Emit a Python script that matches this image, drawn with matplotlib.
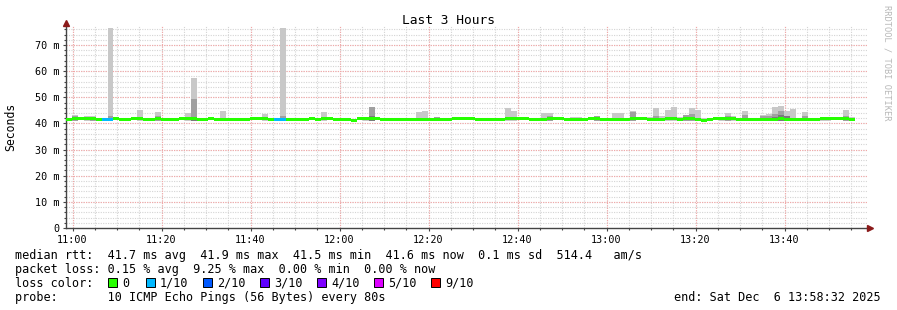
import numpy as np
import matplotlib
matplotlib.use("Agg")
import matplotlib.pyplot as plt
from matplotlib.patches import Rectangle

# --- data -------------------------------------------------------------
step = 80                      # seconds per bar
span = 3 * 3600                # graph covers 10:58:32 .. 13:58:32
first_tick = 88                # 11:00:00 is 88 s after the start

median = [
    41.5, 41.8, 41.8, 41.7, 41.7, 41.6, 41.5, 41.5, 41.8, 41.4,
    41.5, 41.7, 41.7, 41.6, 41.4, 41.7, 41.5, 41.4, 41.6, 41.7,
    41.7, 41.8, 41.4, 41.6, 41.7, 41.5, 41.6, 41.6, 41.6, 41.6,
    41.6, 41.7, 41.7, 41.7, 41.6, 41.5, 41.5, 41.6, 41.6, 41.6,
    41.6, 41.7, 41.6, 41.7, 41.7, 41.5, 41.4, 41.6, 41.3, 41.7,
    41.8, 41.8, 41.7, 41.6, 41.5, 41.5, 41.5, 41.5, 41.5, 41.5,
    41.6, 41.5, 41.6, 41.6, 41.6, 41.7, 41.7, 41.7, 41.7, 41.5,
    41.6, 41.6, 41.6, 41.5, 41.7, 41.7, 41.7, 41.7, 41.5, 41.5,
    41.6, 41.7, 41.7, 41.7, 41.5, 41.6, 41.6, 41.5, 41.7, 41.7,
    41.6, 41.6, 41.6, 41.6, 41.6, 41.7, 41.7, 41.7, 41.6, 41.5,
    41.5, 41.7, 41.7, 41.5, 41.7, 41.7, 41.5, 41.3, 41.6, 41.8,
    41.7, 41.7, 41.7, 41.6, 41.4, 41.4, 41.4, 41.6, 41.6, 41.6,
    41.7, 41.5, 41.5, 41.5, 41.6, 41.4, 41.4, 41.7, 41.7, 41.7,
    41.7, 41.8, 41.5,
]

loss_bins = [6, 7, 35, 36]
loss_tenths = [1, 1, 1, 1]

# smoke: bar index, top of light band, top of mid band, top of dark band
smoke_idx = [1, 3, 4, 7, 12, 15, 20, 21, 26, 33, 36, 43, 50, 51, 59, 60, 62,
             74, 75, 80, 81, 85, 86, 89, 92, 93, 95, 98, 99, 100, 101, 102,
             103, 104, 105, 106, 107, 110, 111, 112, 114, 117, 118, 119, 120,
             121, 122, 124, 127, 128, 131, 132]
smoke_hi = [43.2, 43.0, 43.0, 76.5, 45.3, 44.5, 44.0, 57.5, 44.9, 43.6, 76.5,
            44.4, 42.5, 46.3, 44.5, 44.8, 42.5, 46.0, 44.8, 43.8, 43.8, 42.5,
            42.5, 43.0, 44.0, 43.8, 44.9, 42.5, 46.0, 43.0, 45.3, 46.3, 42.5,
            43.2, 45.8, 45.3, 42.2, 42.5, 43.8, 43.0, 44.9, 43.2, 43.6, 46.3,
            46.6, 44.8, 45.6, 44.5, 42.5, 42.5, 45.3, 42.3]
smoke_mid = [42.9, 0, 42.6, 43.0, 0, 42.8, 0, 49.3, 0, 0, 42.8,
             0, 0, 46.3, 0, 0, 42.5, 0, 0, 0, 42.8, 0,
             0, 43.0, 0, 0, 44.3, 0, 43.0, 0, 0, 0, 0,
             43.2, 43.5, 0, 0, 0, 42.8, 0, 43.2, 42.7, 43.0, 43.6,
             44.7, 42.5, 0, 43.0, 0, 0, 43.0, 0]
smoke_dark = [0, 0, 0, 0, 0, 0, 0, 42.5, 0, 0, 0,
              0, 0, 42.7, 0, 0, 0, 0, 0, 0, 0, 0,
              0, 0, 0, 0, 0, 0, 0, 0, 0, 0, 0,
              0, 0, 0, 0, 0, 0, 0, 0, 0, 0, 42.6,
              43.3, 43.0, 0, 0, 0, 0, 0, 0]

loss_colors = {0: "#26ff00", 1: "#00b8ff", 2: "#0059ff", 3: "#5e00ff",
               4: "#7e00ff", 5: "#dd00ff", 9: "#ff0000"}
legend_labels = ["0", "1/10", "2/10", "3/10", "4/10", "5/10", "9/10"]
legend_keys = [0, 1, 2, 3, 4, 5, 9]
tick_labels = ["11:00", "11:20", "11:40", "12:00", "12:20", "12:40",
               "13:00", "13:20", "13:40"]

# --- figure -----------------------------------------------------------
W, H = 897, 310
mono = "DejaVu Sans Mono"
fig = plt.figure(figsize=(W / 100, H / 100), dpi=100)
fig.patch.set_facecolor("white")

L, R, T, B = 66, 867, 26, 228
ax = fig.add_axes([L / W, 1 - B / H, (R - L) / W, (B - T) / H])
ymax = (B - T) / ((B - 45) / 70.0)
ax.set_xlim(0, span)
ax.set_ylim(0, ymax)


def fx(x):
    return x / W


def fy(y):
    return 1 - y / H


# grid
minor_x = np.arange(first_tick, span, 300)
major_x = np.arange(first_tick, span, 1200)
for x in minor_x:
    ax.axvline(x, color="#d4d4d4", lw=0.8, ls=(0, (1, 1.2)), zorder=0)
for y in np.arange(2, ymax, 2):
    ax.axhline(y, color="#d4d4d4", lw=0.8, ls=(0, (1, 1.2)), zorder=0)
for x in major_x:
    ax.axvline(x, color="#f4a6a6", lw=0.8, ls=(0, (1, 1.2)), zorder=0.5)
for y in np.arange(10, ymax, 10):
    ax.axhline(y, color="#f4a6a6", lw=0.8, ls=(0, (1, 1.2)), zorder=0.5)

# smoke
base = 41.0
sx = np.array(smoke_idx) * step
for vals, col in ((smoke_hi, "#c8c8c8"), (smoke_mid, "#a0a0a0"),
                  (smoke_dark, "#7a7a7a")):
    v = np.array(vals, dtype=float)
    m = v > 0
    ax.bar(sx[m], v[m] - base, bottom=base, width=step, align="edge",
           color=col, linewidth=0, zorder=2)

# median line coloured by loss
med = np.array(median)
mx = np.arange(len(med)) * step
cols = [loss_colors[0]] * len(med)
for i, t in zip(loss_bins, loss_tenths):
    cols[i] = loss_colors[t]
ax.bar(mx, 1.15, bottom=med - 0.57, width=step, align="edge",
       color=cols, linewidth=0, zorder=3)

# axes
for s in ["top", "right"]:
    ax.spines[s].set_visible(False)
for s in ["left", "bottom"]:
    ax.spines[s].set_color("#444444")
    ax.spines[s].set_linewidth(1.0)
ax.set_xticks(major_x)
ax.set_xticks(minor_x, minor=True)
ax.set_xticklabels(tick_labels, fontfamily=mono, fontsize=7.3)
ax.set_yticks(np.arange(0, 71, 10))
ax.set_yticks(np.arange(0, ymax, 2), minor=True)
ax.set_yticklabels(["0"] + [f"{v} m" for v in range(10, 71, 10)],
                   fontfamily=mono, fontsize=7.3)
ax.tick_params(which="both", direction="out", length=2, width=0.8,
               color="#444444", pad=3)
ax.tick_params(which="minor", length=1.5)

# axis arrows
ax.plot([0], [ymax + 1.2], marker="^", color="#8b1a1a", ms=4, clip_on=False,
        zorder=5)
ax.plot([span + 40], [0], marker=">", color="#8b1a1a", ms=4, clip_on=False,
        zorder=5)
ax.plot([span, span + 30], [0, 0], color="#444444", lw=1.0, clip_on=False)

# labels
fig.text(fx(448), fy(24), "Last 3 Hours", fontfamily=mono, fontsize=9.3,
         ha="center", va="baseline")
fig.text(fx(11), fy(127), "Seconds", fontfamily=mono, fontsize=8.3,
         rotation=90, ha="center", va="center")
fig.text(fx(887), fy(5), "RRDTOOL / TOBI OETIKER", fontfamily=mono,
         fontsize=6.2, rotation=270, ha="center", va="top", color="#b8b8b8")

lines = [
    "median rtt:  41.7 ms avg  41.9 ms max  41.5 ms min  41.6 ms now  0.1 ms sd  514.4   am/s",
    "packet loss: 0.15 % avg  9.25 % max  0.00 % min  0.00 % now",
    "loss color:",
    "probe:       10 ICMP Echo Pings (56 Bytes) every 80s",
]
for k, txt in enumerate(lines):
    fig.text(fx(15), fy(258.5 + 14.2 * k), txt, fontfamily=mono,
             fontsize=8.5, ha="left", va="baseline")

box_x = [108, 146, 203, 260, 317, 374, 431]
for bx, key, lab in zip(box_x, legend_keys, legend_labels):
    fig.patches.append(Rectangle((fx(bx), fy(287)), 9 / W, 9 / H,
                                 transform=fig.transFigure,
                                 facecolor=loss_colors[key],
                                 edgecolor="black", linewidth=0.7))
    fig.text(fx(bx + 14), fy(287), lab, fontfamily=mono, fontsize=8.5,
             ha="left", va="baseline")

fig.text(fx(881), fy(301), "end: Sat Dec  6 13:58:32 2025", fontfamily=mono,
         fontsize=8.5, ha="right", va="baseline")

fig.savefig("out.png", dpi=100)
